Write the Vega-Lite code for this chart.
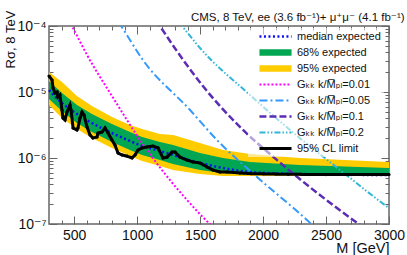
{
  "$schema": "https://vega.github.io/schema/vega-lite/v6.json",
  "width": 340,
  "height": 198,
  "autosize": {"type": "none"},
  "padding": {"left": 49, "top": 26, "right": 18, "bottom": 31},
  "config": {
    "font": "Liberation Sans, DejaVu Sans, sans-serif",
    "view": {"stroke": "#666", "strokeWidth": 1.5},
    "axis": {"grid": false, "domain": false, "tickColor": "#666", "tickWidth": 1, "labelColor": "#111", "titleColor": "#111", "titleFontWeight": "normal", "labelOverlap": false, "labelFlush": false}
  },
  "title": {"text": "CMS, 8 TeV, ee (3.6 fb\u207b\u00b9)+ \u03bc\u207a\u03bc\u207b (4.1 fb\u207b\u00b9)", "anchor": "end", "fontSize": 11.5, "fontWeight": "normal", "color": "#111", "offset": -13},
  "resolve": {"axis": {"x": "independent", "y": "independent"}},
  "data": {"values": [
    {"s": "95% expected", "m": 300, "lo": 6.35e-6, "hi": 2.01e-5},
    {"s": "95% expected", "m": 403, "lo": 4.04e-6, "hi": 1.42e-5},
    {"s": "95% expected", "m": 522, "lo": 2.75e-6, "hi": 8.69e-6},
    {"s": "95% expected", "m": 641, "lo": 2.01e-6, "hi": 6.14e-6},
    {"s": "95% expected", "m": 800, "lo": 1.42e-6, "hi": 4.18e-6},
    {"s": "95% expected", "m": 943, "lo": 1.07e-6, "hi": 3.16e-6},
    {"s": "95% expected", "m": 1039, "lo": 9.0e-7, "hi": 2.75e-6},
    {"s": "95% expected", "m": 1181, "lo": 7.56e-7, "hi": 2.31e-6},
    {"s": "95% expected", "m": 1285, "lo": 6.58e-7, "hi": 2.23e-6},
    {"s": "95% expected", "m": 1499, "lo": 5.72e-7, "hi": 1.69e-6},
    {"s": "95% expected", "m": 1682, "lo": 5.34e-7, "hi": 1.32e-6},
    {"s": "95% expected", "m": 1896, "lo": 5.34e-7, "hi": 1.15e-6},
    {"s": "95% expected", "m": 2293, "lo": 5.34e-7, "hi": 1.0e-6},
    {"s": "95% expected", "m": 3000, "lo": 5.34e-7, "hi": 8.69e-7},
    {"s": "68% expected", "m": 300, "lo": 7.83e-6, "hi": 1.47e-5},
    {"s": "68% expected", "m": 403, "lo": 5.15e-6, "hi": 9.66e-6},
    {"s": "68% expected", "m": 522, "lo": 3.39e-6, "hi": 6.35e-6},
    {"s": "68% expected", "m": 641, "lo": 2.48e-6, "hi": 4.64e-6},
    {"s": "68% expected", "m": 800, "lo": 1.75e-6, "hi": 3.27e-6},
    {"s": "68% expected", "m": 943, "lo": 1.32e-6, "hi": 2.48e-6},
    {"s": "68% expected", "m": 1039, "lo": 1.11e-6, "hi": 2.08e-6},
    {"s": "68% expected", "m": 1181, "lo": 9.33e-7, "hi": 1.75e-6},
    {"s": "68% expected", "m": 1285, "lo": 8.11e-7, "hi": 1.57e-6},
    {"s": "68% expected", "m": 1499, "lo": 6.58e-7, "hi": 1.19e-6},
    {"s": "68% expected", "m": 1682, "lo": 5.93e-7, "hi": 1.0e-6},
    {"s": "68% expected", "m": 1896, "lo": 5.52e-7, "hi": 8.69e-7},
    {"s": "68% expected", "m": 2293, "lo": 5.52e-7, "hi": 7.83e-7},
    {"s": "68% expected", "m": 3000, "lo": 5.43e-7, "hi": 7.05e-7},
    {"s": "median expected", "m": 300, "v": 1.07e-5},
    {"s": "median expected", "m": 403, "v": 6.81e-6},
    {"s": "median expected", "m": 522, "v": 4.64e-6},
    {"s": "median expected", "m": 641, "v": 3.39e-6},
    {"s": "median expected", "m": 800, "v": 2.39e-6},
    {"s": "median expected", "m": 943, "v": 1.81e-6},
    {"s": "median expected", "m": 1039, "v": 1.52e-6},
    {"s": "median expected", "m": 1181, "v": 1.28e-6},
    {"s": "median expected", "m": 1285, "v": 1.11e-6},
    {"s": "median expected", "m": 1499, "v": 8.4e-7},
    {"s": "median expected", "m": 1682, "v": 7.05e-7},
    {"s": "median expected", "m": 1896, "v": 6.14e-7},
    {"s": "median expected", "m": 2293, "v": 5.72e-7},
    {"s": "median expected", "m": 3000, "v": 5.52e-7},
    {"s": "G\u2096\u2096 k/M\u0305\u209a\u2097=0.01", "m": 460, "v": 1.22e-4},
    {"s": "G\u2096\u2096 k/M\u0305\u209a\u2097=0.01", "m": 483, "v": 1.0e-4},
    {"s": "G\u2096\u2096 k/M\u0305\u209a\u2097=0.01", "m": 602, "v": 3.64e-5},
    {"s": "G\u2096\u2096 k/M\u0305\u209a\u2097=0.01", "m": 800, "v": 8.7e-6},
    {"s": "G\u2096\u2096 k/M\u0305\u209a\u2097=0.01", "m": 1039, "v": 1.69e-6},
    {"s": "G\u2096\u2096 k/M\u0305\u209a\u2097=0.01", "m": 1396, "v": 2.31e-7},
    {"s": "G\u2096\u2096 k/M\u0305\u209a\u2097=0.01", "m": 1578, "v": 1.0e-7},
    {"s": "G\u2096\u2096 k/M\u0305\u209a\u2097=0.01", "m": 1650, "v": 7.6e-8},
    {"s": "G\u2096\u2096 k/M\u0305\u209a\u2097=0.05", "m": 850, "v": 1.15e-4},
    {"s": "G\u2096\u2096 k/M\u0305\u209a\u2097=0.05", "m": 872, "v": 1.0e-4},
    {"s": "G\u2096\u2096 k/M\u0305\u209a\u2097=0.05", "m": 1046, "v": 3.05e-5},
    {"s": "G\u2096\u2096 k/M\u0305\u209a\u2097=0.05", "m": 1420, "v": 5.34e-6},
    {"s": "G\u2096\u2096 k/M\u0305\u209a\u2097=0.05", "m": 1634, "v": 1.87e-6},
    {"s": "G\u2096\u2096 k/M\u0305\u209a\u2097=0.05", "m": 1952, "v": 5.15e-7},
    {"s": "G\u2096\u2096 k/M\u0305\u209a\u2097=0.05", "m": 2373, "v": 1.04e-7},
    {"s": "G\u2096\u2096 k/M\u0305\u209a\u2097=0.05", "m": 2450, "v": 7.5e-8},
    {"s": "G\u2096\u2096 k/M\u0305\u209a\u2097=0.1", "m": 1150, "v": 1.23e-4},
    {"s": "G\u2096\u2096 k/M\u0305\u209a\u2097=0.1", "m": 1181, "v": 1.0e-4},
    {"s": "G\u2096\u2096 k/M\u0305\u209a\u2097=0.1", "m": 1515, "v": 1.28e-5},
    {"s": "G\u2096\u2096 k/M\u0305\u209a\u2097=0.1", "m": 1841, "v": 2.66e-6},
    {"s": "G\u2096\u2096 k/M\u0305\u209a\u2097=0.1", "m": 2111, "v": 9.3e-7},
    {"s": "G\u2096\u2096 k/M\u0305\u209a\u2097=0.1", "m": 2760, "v": 1.0e-7},
    {"s": "G\u2096\u2096 k/M\u0305\u209a\u2097=0.1", "m": 2840, "v": 7.8e-8},
    {"s": "G\u2096\u2096 k/M\u0305\u209a\u2097=0.2", "m": 1330, "v": 1.15e-4},
    {"s": "G\u2096\u2096 k/M\u0305\u209a\u2097=0.2", "m": 1356, "v": 1.0e-4},
    {"s": "G\u2096\u2096 k/M\u0305\u209a\u2097=0.2", "m": 1499, "v": 4.64e-5},
    {"s": "G\u2096\u2096 k/M\u0305\u209a\u2097=0.2", "m": 1896, "v": 9.0e-6},
    {"s": "G\u2096\u2096 k/M\u0305\u209a\u2097=0.2", "m": 2214, "v": 2.66e-6},
    {"s": "G\u2096\u2096 k/M\u0305\u209a\u2097=0.2", "m": 2611, "v": 6.58e-7},
    {"s": "G\u2096\u2096 k/M\u0305\u209a\u2097=0.2", "m": 3000, "v": 1.75e-7},
    {"s": "G\u2096\u2096 k/M\u0305\u209a\u2097=0.2", "m": 3050, "v": 1.5e-7},
    {"s": "95% CL limit", "m": 300, "v": 1.75e-5},
    {"s": "95% CL limit", "m": 324, "v": 1.52e-5},
    {"s": "95% CL limit", "m": 332, "v": 1.15e-5},
    {"s": "95% CL limit", "m": 348, "v": 9.66e-6},
    {"s": "95% CL limit", "m": 364, "v": 1.0e-5},
    {"s": "95% CL limit", "m": 371, "v": 8.4e-6},
    {"s": "95% CL limit", "m": 387, "v": 9.0e-6},
    {"s": "95% CL limit", "m": 403, "v": 5.34e-6},
    {"s": "95% CL limit", "m": 411, "v": 4.03e-6},
    {"s": "95% CL limit", "m": 427, "v": 3.77e-6},
    {"s": "95% CL limit", "m": 443, "v": 4.98e-6},
    {"s": "95% CL limit", "m": 467, "v": 6.35e-6},
    {"s": "95% CL limit", "m": 475, "v": 5.34e-6},
    {"s": "95% CL limit", "m": 491, "v": 2.85e-6},
    {"s": "95% CL limit", "m": 522, "v": 2.66e-6},
    {"s": "95% CL limit", "m": 530, "v": 2.85e-6},
    {"s": "95% CL limit", "m": 546, "v": 4.03e-6},
    {"s": "95% CL limit", "m": 562, "v": 4.98e-6},
    {"s": "95% CL limit", "m": 578, "v": 4.49e-6},
    {"s": "95% CL limit", "m": 602, "v": 2.95e-6},
    {"s": "95% CL limit", "m": 626, "v": 2.23e-6},
    {"s": "95% CL limit", "m": 649, "v": 2.01e-6},
    {"s": "95% CL limit", "m": 681, "v": 2.08e-6},
    {"s": "95% CL limit", "m": 689, "v": 2.39e-6},
    {"s": "95% CL limit", "m": 721, "v": 2.48e-6},
    {"s": "95% CL limit", "m": 745, "v": 2.85e-6},
    {"s": "95% CL limit", "m": 769, "v": 2.39e-6},
    {"s": "95% CL limit", "m": 800, "v": 1.87e-6},
    {"s": "95% CL limit", "m": 824, "v": 1.57e-6},
    {"s": "95% CL limit", "m": 848, "v": 1.19e-6},
    {"s": "95% CL limit", "m": 880, "v": 1.11e-6},
    {"s": "95% CL limit", "m": 919, "v": 1.07e-6},
    {"s": "95% CL limit", "m": 959, "v": 1.0e-6},
    {"s": "95% CL limit", "m": 983, "v": 1.11e-6},
    {"s": "95% CL limit", "m": 1007, "v": 1.32e-6},
    {"s": "95% CL limit", "m": 1039, "v": 1.42e-6},
    {"s": "95% CL limit", "m": 1078, "v": 1.47e-6},
    {"s": "95% CL limit", "m": 1126, "v": 1.52e-6},
    {"s": "95% CL limit", "m": 1166, "v": 1.42e-6},
    {"s": "95% CL limit", "m": 1205, "v": 1.0e-6},
    {"s": "95% CL limit", "m": 1237, "v": 1.03e-6},
    {"s": "95% CL limit", "m": 1277, "v": 1.23e-6},
    {"s": "95% CL limit", "m": 1301, "v": 1.23e-6},
    {"s": "95% CL limit", "m": 1340, "v": 1.03e-6},
    {"s": "95% CL limit", "m": 1396, "v": 9.3e-7},
    {"s": "95% CL limit", "m": 1444, "v": 8.7e-7},
    {"s": "95% CL limit", "m": 1499, "v": 8.4e-7},
    {"s": "95% CL limit", "m": 1555, "v": 7.31e-7},
    {"s": "95% CL limit", "m": 1602, "v": 6.58e-7},
    {"s": "95% CL limit", "m": 1658, "v": 6.14e-7},
    {"s": "95% CL limit", "m": 1713, "v": 6.14e-7},
    {"s": "95% CL limit", "m": 1817, "v": 5.93e-7},
    {"s": "95% CL limit", "m": 1900, "v": 5.8e-7},
    {"s": "95% CL limit", "m": 2000, "v": 5.75e-7},
    {"s": "95% CL limit", "m": 2100, "v": 5.7e-7},
    {"s": "95% CL limit", "m": 2200, "v": 5.65e-7},
    {"s": "95% CL limit", "m": 2300, "v": 5.65e-7},
    {"s": "95% CL limit", "m": 2400, "v": 5.62e-7},
    {"s": "95% CL limit", "m": 2500, "v": 5.6e-7},
    {"s": "95% CL limit", "m": 2600, "v": 5.62e-7},
    {"s": "95% CL limit", "m": 2700, "v": 5.6e-7},
    {"s": "95% CL limit", "m": 2800, "v": 5.6e-7},
    {"s": "95% CL limit", "m": 2900, "v": 5.6e-7},
    {"s": "95% CL limit", "m": 3000, "v": 5.6e-7}
  ]},
  "encoding": {
    "x": {"field": "m", "type": "quantitative", "scale": {"domain": [300, 3000], "nice": false, "zero": false}},
    "color": {"field": "s", "type": "nominal", "scale": {
      "domain": ["median expected", "68% expected", "95% expected", "G\u2096\u2096 k/M\u0305\u209a\u2097=0.01", "G\u2096\u2096 k/M\u0305\u209a\u2097=0.05", "G\u2096\u2096 k/M\u0305\u209a\u2097=0.1", "G\u2096\u2096 k/M\u0305\u209a\u2097=0.2", "95% CL limit"],
      "range": ["#1010ee", "#00a651", "#ffcc00", "#ff00ff", "#3399ff", "#5a2db4", "#33b6d6", "#000000"]}},
    "strokeDash": {"field": "s", "type": "nominal", "scale": {
      "domain": ["median expected", "68% expected", "95% expected", "G\u2096\u2096 k/M\u0305\u209a\u2097=0.01", "G\u2096\u2096 k/M\u0305\u209a\u2097=0.05", "G\u2096\u2096 k/M\u0305\u209a\u2097=0.1", "G\u2096\u2096 k/M\u0305\u209a\u2097=0.2", "95% CL limit"],
      "range": [[2, 2.5], [1, 0], [1, 0], [2, 2], [8, 3, 2, 3], [7, 3], [6, 2, 1.5, 2, 1.5, 2], [1, 0]]}},
    "strokeWidth": {"field": "s", "type": "nominal", "scale": {"type": "ordinal",
      "domain": ["median expected", "68% expected", "95% expected", "G\u2096\u2096 k/M\u0305\u209a\u2097=0.01", "G\u2096\u2096 k/M\u0305\u209a\u2097=0.05", "G\u2096\u2096 k/M\u0305\u209a\u2097=0.1", "G\u2096\u2096 k/M\u0305\u209a\u2097=0.2", "95% CL limit"],
      "range": [2.5, 6.5, 6.5, 2, 2, 2.5, 2, 3]}}
  },
  "layer": [
    {
      "transform": [{"filter": {"field": "s", "equal": "95% expected"}}],
      "mark": {"type": "area"},
      "encoding": {
        "x": {"field": "m", "type": "quantitative", "axis": {
          "orient": "bottom",
          "values": [500, 1000, 1500, 2000, 2500, 3000],
          "format": "d",
          "tickSize": -8,
          "labelPadding": 12, "labelFontSize": 14,
          "title": "M [GeV]", "titleAnchor": "end", "titleAlign": "right", "titleFontSize": 14.5, "titleY": 24, "titleBaseline": "middle"}},
        "y": {"field": "lo", "type": "quantitative", "scale": {"type": "log", "domain": [1e-7, 1e-4], "nice": false}, "axis": {
          "orient": "left",
          "values": [1e-7, 1e-6, 1e-5, 1e-4],
          "labelExpr": "'10' + ['\u207b\u2077','\u207b\u2076','\u207b\u2075','\u207b\u2074'][round(log(datum.value)/LN10) + 7]",
          "tickSize": -8,
          "labelPadding": 11, "labelFontSize": 14,
          "title": "R\u03c3, 8 TeV", "titleFontSize": 13, "titleAlign": "right", "titleAnchor": "end", "titleX": -32, "titleY": -16, "titleBaseline": "bottom"}},
        "y2": {"field": "hi"},
        "color": {"field": "s", "type": "nominal", "legend": {
          "orient": "none", "legendX": 199, "legendY": 2, "title": null,
          "fillColor": "rgba(255,255,255,0.55)", "padding": 3,
          "labelFontSize": 11, "labelColor": "#111", "labelLimit": 200,
          "symbolType": "M-10.7,0H10.7", "symbolSize": 9, "symbolOffset": 19, "labelOffset": 16, "rowPadding": 4,
          "encode": {"symbols": {"update": {"strokeJoin": {"value": "bevel"}}}}
        }}
      }
    },
    {
      "transform": [{"filter": {"field": "s", "equal": "68% expected"}}],
      "mark": {"type": "area"},
      "encoding": {
        "x": {"field": "m", "type": "quantitative", "axis": {
          "orient": "bottom", "labels": false, "title": null, "tickSize": -4,
          "values": [400,600,700,800,900,1100,1200,1300,1400,1600,1700,1800,1900,2100,2200,2300,2400,2600,2700,2800,2900]}},
        "y": {"field": "lo", "type": "quantitative", "axis": {
          "orient": "left", "labels": false, "title": null, "tickSize": -4,
          "values": [2e-7,3e-7,4e-7,5e-7,6e-7,7e-7,8e-7,9e-7,2e-6,3e-6,4e-6,5e-6,6e-6,7e-6,8e-6,9e-6,2e-5,3e-5,4e-5,5e-5,6e-5,7e-5,8e-5,9e-5]}},
        "y2": {"field": "hi"}
      }
    },
    {
      "transform": [{"filter": {"field": "s", "equal": "median expected"}}],
      "mark": {"type": "line", "interpolate": "monotone"},
      "encoding": {
        "x": {"field": "m", "type": "quantitative", "axis": {
          "orient": "top", "labels": false, "title": null, "tickSize": -8,
          "values": [500, 1000, 1500, 2000, 2500, 3000]}},
        "y": {"field": "v", "type": "quantitative", "axis": {
          "orient": "right", "labels": false, "title": null, "tickSize": -8,
          "values": [1e-7, 1e-6, 1e-5, 1e-4]}}
      }
    },
    {
      "transform": [{"filter": {"field": "s", "equal": "G\u2096\u2096 k/M\u0305\u209a\u2097=0.01"}}],
      "mark": {"type": "line", "interpolate": "monotone", "clip": true},
      "encoding": {
        "x": {"field": "m", "type": "quantitative", "axis": {
          "orient": "top", "labels": false, "title": null, "tickSize": -4,
          "values": [400,600,700,800,900,1100,1200,1300,1400,1600,1700,1800,1900,2100,2200,2300,2400,2600,2700,2800,2900]}},
        "y": {"field": "v", "type": "quantitative", "axis": {
          "orient": "right", "labels": false, "title": null, "tickSize": -4,
          "values": [2e-7,3e-7,4e-7,5e-7,6e-7,7e-7,8e-7,9e-7,2e-6,3e-6,4e-6,5e-6,6e-6,7e-6,8e-6,9e-6,2e-5,3e-5,4e-5,5e-5,6e-5,7e-5,8e-5,9e-5]}}
      }
    },
    {
      "transform": [{"filter": {"field": "s", "equal": "G\u2096\u2096 k/M\u0305\u209a\u2097=0.05"}}],
      "mark": {"type": "line", "interpolate": "monotone", "clip": true},
      "encoding": {"x": {"field": "m", "type": "quantitative", "axis": null}, "y": {"field": "v", "type": "quantitative", "axis": null}}
    },
    {
      "transform": [{"filter": {"field": "s", "equal": "G\u2096\u2096 k/M\u0305\u209a\u2097=0.1"}}],
      "mark": {"type": "line", "interpolate": "monotone", "clip": true},
      "encoding": {"x": {"field": "m", "type": "quantitative", "axis": null}, "y": {"field": "v", "type": "quantitative", "axis": null}}
    },
    {
      "transform": [{"filter": {"field": "s", "equal": "G\u2096\u2096 k/M\u0305\u209a\u2097=0.2"}}],
      "mark": {"type": "line", "interpolate": "monotone", "clip": true},
      "encoding": {"x": {"field": "m", "type": "quantitative", "axis": null}, "y": {"field": "v", "type": "quantitative", "axis": null}}
    },
    {
      "transform": [{"filter": {"field": "s", "equal": "95% CL limit"}}],
      "mark": {"type": "line", "point": {"filled": true, "size": 10}},
      "encoding": {"x": {"field": "m", "type": "quantitative", "axis": null}, "y": {"field": "v", "type": "quantitative", "axis": null}}
    }
  ]
}
